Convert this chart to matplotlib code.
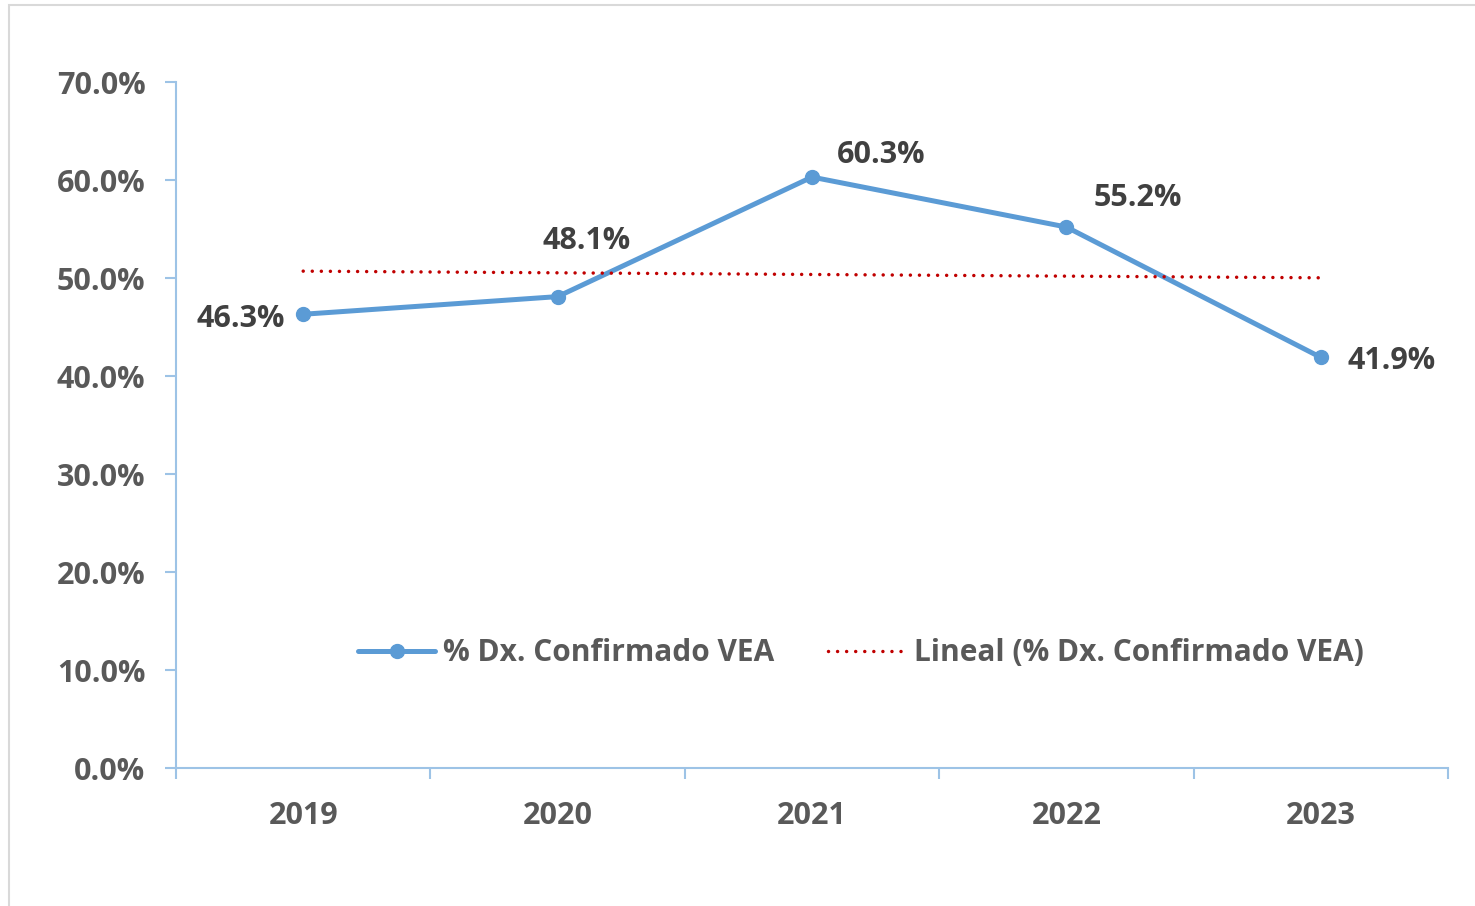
import matplotlib.pyplot as plt
import numpy as np
from matplotlib.patches import Rectangle

plt.rcParams['font.family'] = ['Open Sans', 'DejaVu Sans']
plt.rcParams['font.weight'] = 'bold'

# datos
anios = ['2019', '2020', '2021', '2022', '2023']
porcentaje = [46.3, 48.1, 60.3, 55.2, 41.9]
serie_nombre = '% Dx. Confirmado VEA'
tendencia_nombre = 'Lineal (% Dx. Confirmado VEA)'
# desplazamiento de cada etiqueta (px) y alineacion
etiqueta_offset = [(-18, -5), (29, 56), (69, 22), (71, 29), (27, -4)]
etiqueta_ha = ['right', 'center', 'center', 'center', 'left']

azul = '#5B9BD5'
rojo = '#C00000'
eje = '#9DC3E6'
gris = '#595959'

fig = plt.figure(figsize=(14.75, 9.06), dpi=100)
ax = fig.add_axes([176/1475, 1-768/906, (1448-176)/1475, (768-82)/906])

x = np.arange(len(anios))
y = np.array(porcentaje)

ax.plot(x, y, color=azul, lw=3.6, marker='o', ms=10, label=serie_nombre,
        solid_capstyle='round')

# linea de tendencia lineal
m, b = np.polyfit(x, y, 1)
ax.plot(x, m*x + b, color=rojo, lw=2.5, linestyle=(0, (0.01, 2.6)), label=tendencia_nombre,
        dash_capstyle='round')

for xi, yi, off, ha in zip(x, y, etiqueta_offset, etiqueta_ha):
    ax.annotate(f'{yi:.1f}%', (xi, yi), xytext=off, textcoords='offset pixels',
                ha=ha, va='center', fontsize=22, color='#404040', fontweight='bold')

ax.set_xlim(-0.5, len(anios) - 0.5)
ax.set_ylim(0, 70)
ax.set_yticks(np.arange(0, 71, 10))
ax.set_yticklabels([f'{v:.1f}%' for v in np.arange(0, 71, 10)])
ax.set_xticks(np.arange(-0.5, len(anios), 1))
ax.set_xticklabels([])
ax.set_xticks(x, minor=True)
ax.set_xticklabels(anios, minor=True)

ax.tick_params(axis='x', which='major', length=8, width=1.5, color=eje, direction='out')
ax.tick_params(axis='x', which='minor', length=0, pad=23.5, labelsize=22, labelcolor=gris)
ax.tick_params(axis='y', length=8, width=1.5, color=eje, direction='out',
               labelsize=22, labelcolor=gris, pad=14)

for s in ['top', 'right']:
    ax.spines[s].set_visible(False)
for s in ['left', 'bottom']:
    ax.spines[s].set_color(eje)
    ax.spines[s].set_linewidth(1.5)

leg = ax.legend(loc='center', bbox_to_anchor=(0.5384, 0.1676), ncol=2, frameon=False,
                fontsize=21.5, handlelength=2.6, columnspacing=1.8, handletextpad=0.27)
for t in leg.get_texts():
    t.set_color(gris)

# borde del grafico
fig.patches.append(Rectangle((9/1475, -0.01), 1.0, 1-5/906+0.01, transform=fig.transFigure,
                             fill=False, edgecolor='#D9D9D9', lw=1.5))

fig.savefig('out.png', dpi=100)
